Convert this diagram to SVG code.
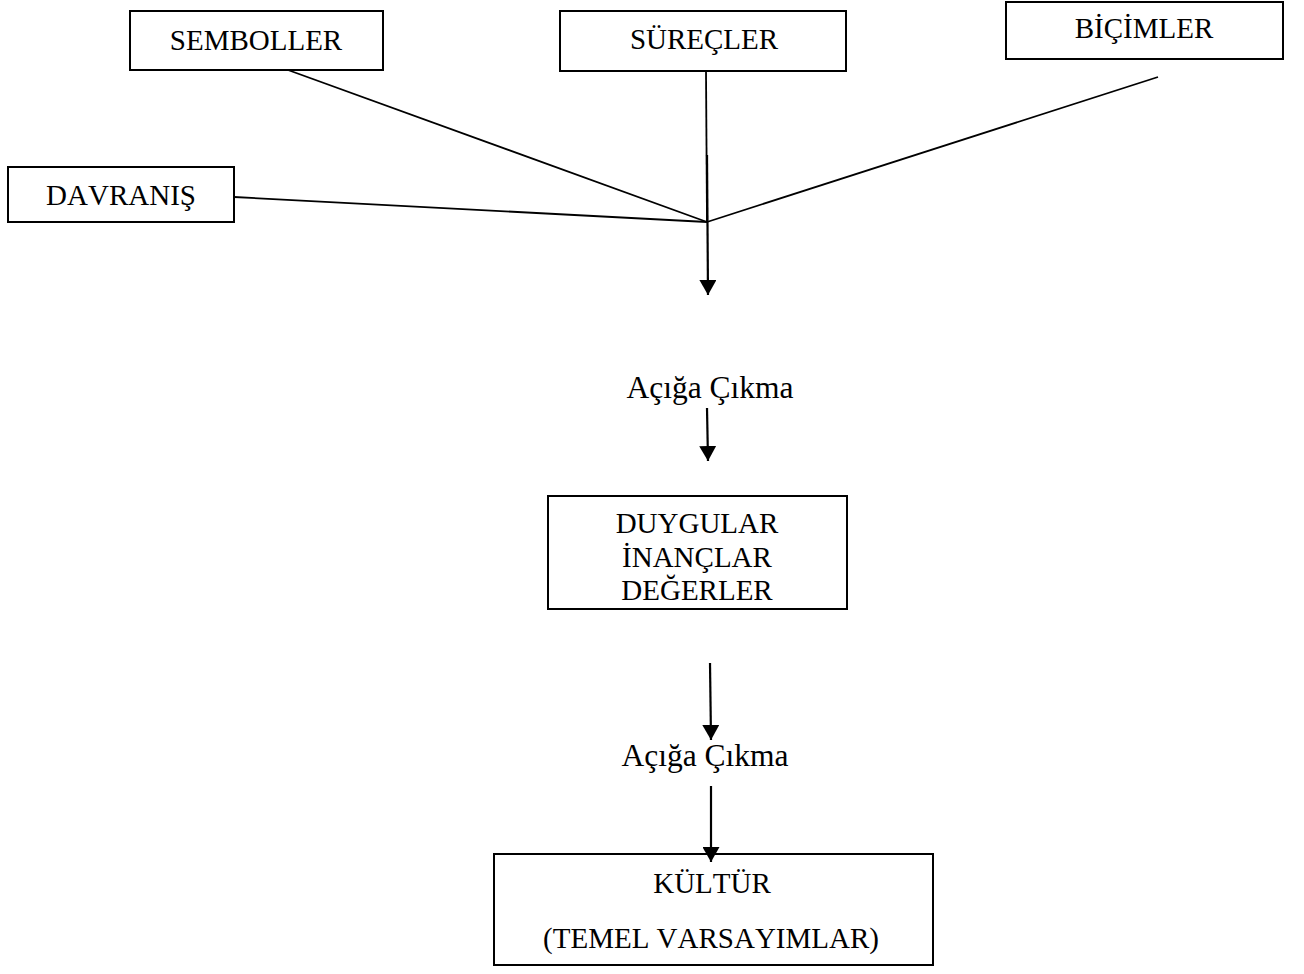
<svg xmlns="http://www.w3.org/2000/svg" width="1304" height="974" viewBox="0 0 1304 974">
<style>
.box{fill:#fff;stroke:#000;stroke-width:2}
.t{font-family:"Liberation Serif","Times New Roman",serif;font-size:29px;fill:#000;text-anchor:middle;font-kerning:none}
.lbl{font-size:31.5px}
.ln{stroke:#000;stroke-width:1.8;fill:none}
.ar{stroke:#000;stroke-width:2.2;fill:none;marker-end:url(#ah)}
</style>
<defs>
<marker id="ah" markerWidth="17" markerHeight="17" refX="15" refY="8.5" orient="auto" markerUnits="userSpaceOnUse">
<path d="M0,0 L15,8.5 L0,17 Z" fill="#000"/>
</marker>
</defs>
<rect width="1304" height="974" fill="#fff"/>
<g id="semboller">
<rect class="box" x="130" y="11" width="253" height="59"/>
<text class="t" x="256" y="50">SEMBOLLER</text>
</g>
<g id="surecler">
<rect class="box" x="560" y="11" width="286" height="60"/>
<text class="t" x="704" y="49">SÜREÇLER</text>
</g>
<g id="bicimler">
<rect class="box" x="1006" y="2" width="277" height="57"/>
<text class="t" x="1144" y="38">BİÇİMLER</text>
</g>
<g id="davranis">
<rect class="box" x="8" y="167" width="226" height="55"/>
<text class="t" x="121" y="205">DAVRANIŞ</text>
</g>
<g id="aciga1">
<text class="t lbl" x="710" y="398">Açığa Çıkma</text>
</g>
<g id="duygular">
<rect class="box" x="548" y="496" width="299" height="113"/>
<text class="t" x="697" y="533">DUYGULAR</text>
<text class="t" x="697" y="567">İNANÇLAR</text>
<text class="t" x="697" y="600">DEĞERLER</text>
</g>
<g id="aciga2">
<text class="t lbl" x="705" y="766">Açığa Çıkma</text>
</g>
<g id="kultur">
<rect class="box" x="494" y="854" width="439" height="111"/>
<text class="t" x="712" y="893">KÜLTÜR</text>
<text class="t" x="711" y="948">(TEMEL VARSAYIMLAR)</text>
</g>
<g id="connectors">
<line class="ln" x1="288" y1="70" x2="707" y2="222"/>
<line class="ln" x1="706" y1="71" x2="707" y2="222"/>
<line class="ln" x1="1158" y1="77" x2="707" y2="222"/>
<line class="ln" x1="234" y1="197" x2="707" y2="222"/>
<line class="ar" x1="707" y1="155" x2="708" y2="295"/>
<line class="ar" x1="707" y1="408" x2="708" y2="461"/>
<line class="ar" x1="710" y1="663" x2="711" y2="740"/>
<line class="ar" x1="711" y1="786" x2="711" y2="862"/>
</g>
</svg>
